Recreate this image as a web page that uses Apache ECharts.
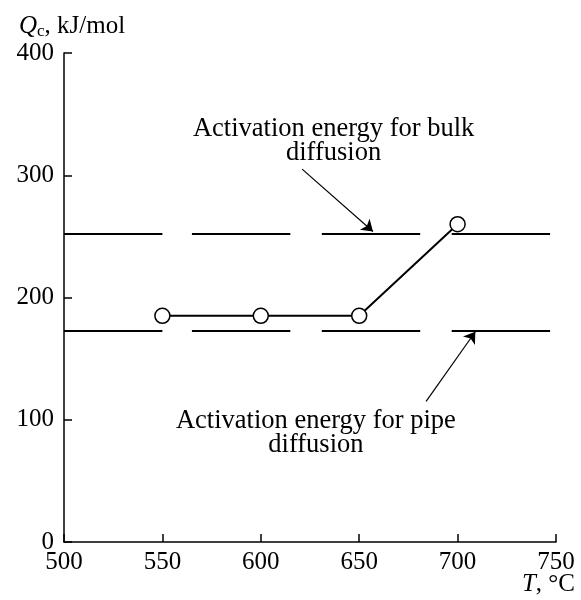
<!DOCTYPE html>
<html>
<head>
<meta charset="utf-8">
<script src="https://cdn.jsdelivr.net/npm/echarts@6/dist/echarts.min.js"></script>
<style>
  html, body { margin: 0; padding: 0; background: #fff; }
  #chart { width: 581px; height: 600px; }
</style>
</head>
<body>
<div id="chart"></div>
<script>
// Measured activation energy Qc versus temperature T
const tempC = [550, 600, 650, 700];
const qcValues = [185, 185, 185, 260];

// Reference levels (kJ/mol) for bulk and pipe diffusion
const bulkQ = 252;
const pipeQ = 173;
// Temperature spans of the broken reference lines
const dashSpans = [[500, 550], [565, 615], [631, 681], [697, 747]];

// Annotation arrows: [from, to] in data units
const bulkArrow = [[621, 305], [657, 254]];
const pipeArrow = [[684, 115], [709, 172]];

// Annotation texts and anchor points (data units)
const bulkText = 'Activation energy for bulk\ndiffusion';
const bulkTextAt = [637, 328];
const pipeText = 'Activation energy for pipe\ndiffusion';
const pipeTextAt = [628, 89];

const FONT = 'Liberation Serif';
const INK = '#000';

const chart = echarts.init(document.getElementById('chart'), null, { renderer: 'canvas' });

function refLine(q) {
  return {
    type: 'lines',
    coordinateSystem: 'cartesian2d',
    silent: true,
    symbol: 'none',
    lineStyle: { color: INK, width: 2, opacity: 1 },
    data: dashSpans.map(s => ({ coords: [[s[0], q], [s[1], q]] })),
    z: 2
  };
}

function arrow(a) {
  return {
    type: 'lines',
    coordinateSystem: 'cartesian2d',
    silent: true,
    symbol: ['none', 'arrow'],
    symbolSize: 11,
    lineStyle: { color: INK, width: 1.2, opacity: 1 },
    data: [{ coords: a }],
    z: 3
  };
}

const axisCommon = {
  type: 'value',
  splitLine: { show: false },
  axisLine: { show: true, lineStyle: { color: INK, width: 1.5 } },
  axisTick: { show: true, inside: true, length: 8, lineStyle: { color: INK, width: 1.5 } },
  axisLabel: { color: INK, fontFamily: FONT, fontSize: 25 }
};

chart.setOption({
  animation: false,
  backgroundColor: '#fff',
  grid: { left: 64, right: 25, top: 53, bottom: 58, containLabel: false, outerBoundsMode: 'none' },
  title: [{
    text: '{q|Q}{s|c}{n|, kJ/mol}',
    left: 14,
    top: 8,
    textStyle: {
      fontWeight: 'normal',
      rich: {
        q: { fontFamily: FONT, fontSize: 25, fontStyle: 'italic', fontWeight: 'normal', color: INK },
        s: { fontFamily: FONT, fontSize: 17, fontWeight: 'normal', color: INK, verticalAlign: 'bottom', padding: [10, 0, 0, 0] },
        n: { fontFamily: FONT, fontSize: 25, fontWeight: 'normal', color: INK }
      }
    }
  }],
  graphic: [{
    type: 'text',
    right: 6,
    bottom: 3,
    style: {
      text: '{t|T}{n|, °C}',
      rich: {
        t: { fontFamily: FONT, fontSize: 25, fontStyle: 'italic', fill: INK },
        n: { fontFamily: FONT, fontSize: 25, fill: INK }
      }
    }
  }],
  xAxis: Object.assign({}, axisCommon, {
    min: 500, max: 750, interval: 50,
    axisLabel: Object.assign({}, axisCommon.axisLabel, { margin: 8 })
  }),
  yAxis: Object.assign({}, axisCommon, {
    min: 0, max: 400, interval: 100,
    axisLabel: Object.assign({}, axisCommon.axisLabel, { margin: 10 })
  }),
  series: [
    refLine(bulkQ),
    refLine(pipeQ),
    arrow(bulkArrow),
    arrow(pipeArrow),
    {
      type: 'line',
      data: tempC.map((t, i) => [t, qcValues[i]]),
      symbol: 'circle',
      symbolSize: 15,
      showSymbol: true,
      lineStyle: { color: INK, width: 2 },
      itemStyle: { color: '#fff', borderColor: INK, borderWidth: 1.5 },
      z: 5
    }
  ]
});

// Place the annotation texts at their data anchors
function annotation(text, at) {
  const p = chart.convertToPixel({ gridIndex: 0 }, at);
  return {
    type: 'text',
    x: p[0],
    y: p[1],
    silent: true,
    style: {
      text: text,
      fontFamily: FONT,
      fontSize: 26.5,
      lineHeight: 24,
      fill: INK,
      align: 'center',
      verticalAlign: 'middle'
    }
  };
}

chart.setOption({
  graphic: [
    {},
    annotation(bulkText, bulkTextAt),
    annotation(pipeText, pipeTextAt)
  ]
});
</script>
</body>
</html>
